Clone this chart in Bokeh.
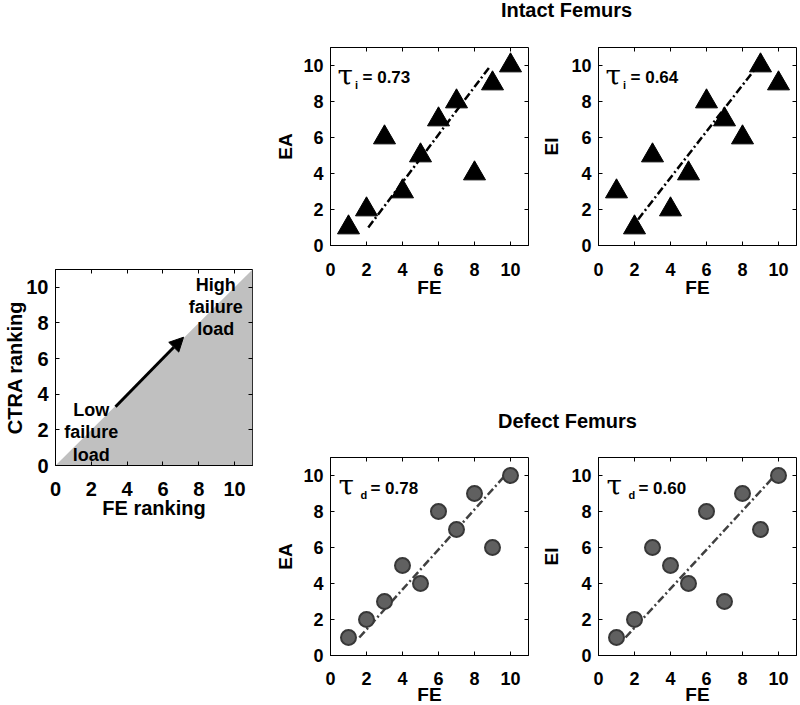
from bokeh.plotting import figure
from bokeh.models import Range1d, LinearAxis, FixedTicker, Arrow, NormalHead
from bokeh.layouts import row, column
from bokeh.embed import file_html
from bokeh.resources import INLINE
from bokeh.core.properties import value

FONT = "Liberation Sans"

# ---------------- data ----------------
fe_rank = [1, 2, 3, 4, 5, 6, 7, 8, 9, 10]
intact_ea = [1, 2, 6, 3, 5, 7, 8, 4, 9, 10]
intact_ei = [3, 1, 5, 2, 4, 8, 7, 6, 10, 9]
defect_ea = [1, 2, 3, 5, 4, 8, 7, 9, 6, 10]
defect_ei = [1, 2, 6, 5, 4, 8, 3, 9, 7, 10]

intact_ea_fit_x = [2.1, 8.9]
intact_ea_fit_y = [1.0, 10.0]
intact_ei_fit_x = [2.2, 8.85]
intact_ei_fit_y = [1.45, 10.0]
defect_ea_fit_x = [1.6, 9.7]
defect_ea_fit_y = [1.0, 10.0]
defect_ei_fit_x = [1.5, 9.8]
defect_ei_fit_y = [1.0, 10.0]

tau_values = ["0.73", "0.64", "0.78", "0.60"]
tau_subs = ["i", "i", "d", "d"]
ticks = [0, 2, 4, 6, 8, 10]
axis_max = 11

# schematic panel
region_x = [0, 11, 11]
region_y = [0, 11, 0]
arrow_from = (3.35, 3.3)
arrow_to = (7.15, 7.2)
low_label = "Low\nfailure\nload"
high_label = "High\nfailure\nload"
low_pos = (2.0, 1.87)
high_pos = (8.95, 8.9)


def style_axes(p, tick_size, label_size, x_std, x_lab_std, y_std, y_lab_std):
    for ax in p.xaxis + p.yaxis:
        ax.ticker = FixedTicker(ticks=ticks)
        ax.major_tick_in = 4
        ax.major_tick_out = 0
        ax.minor_tick_line_color = None
        ax.axis_line_color = "black"
        ax.major_tick_line_color = "black"
        ax.major_label_text_font = FONT
        ax.major_label_text_font_style = "bold"
        ax.major_label_text_font_size = tick_size
        ax.major_label_text_color = "black"
        ax.axis_label_text_font = FONT
        ax.axis_label_text_font_style = "bold"
        ax.axis_label_text_font_size = label_size
        ax.axis_label_text_color = "black"
    p.xaxis.major_label_standoff = x_std
    p.xaxis.axis_label_standoff = x_lab_std
    p.yaxis.major_label_standoff = y_std
    p.yaxis.axis_label_standoff = y_lab_std
    for loc in ("above", "right"):
        ax = LinearAxis(ticker=FixedTicker(ticks=ticks), major_tick_in=4, major_tick_out=0,
                        minor_tick_line_color=None, axis_line_color=None,
                        major_label_text_font_size="0px", major_label_standoff=0,
                        major_label_overrides={t: "" for t in ticks})
        p.add_layout(ax, loc)


def base_fig(fw, fh, bl, br, bt, bb, xlabel, ylabel):
    p = figure(frame_width=fw, frame_height=fh,
               x_range=Range1d(0, axis_max), y_range=Range1d(0, axis_max),
               output_backend="svg", toolbar_location=None,
               min_border_left=bl, min_border_right=br,
               min_border_top=bt, min_border_bottom=bb,
               x_axis_label=xlabel, y_axis_label=ylabel)
    p.grid.visible = False
    p.outline_line_color = "black"
    p.outline_line_width = 1
    p.background_fill_color = "white"
    p.border_fill_color = "white"
    return p


def scatter_panel(ys, fit_x, fit_y, ylabel, sub, tau, kind, bl, br, bt, bb, x_std, x_lab_std, y_lab_std):
    p = base_fig(198, 198, bl, br, bt, bb, "FE", ylabel)
    style_axes(p, "18px", "19px", x_std, x_lab_std, 7, y_lab_std)
    if kind == "tri":
        p.line(fit_x, fit_y, line_color="black", line_width=2.5, line_dash="8 3 2 3")
        p.scatter(fe_rank, ys, marker="triangle", size=22, fill_color="black", line_color="black")
        sx, ex, by_tau, by_eq, by_sub = 0.39, 1.78, 9.44, 9.33, 8.89
        sub_x = 1.44
    else:
        p.line(fit_x, fit_y, line_color="#404040", line_width=2.5, line_dash="8 3 2 3")
        p.scatter(fe_rank, ys, marker="circle", size=15, fill_color="#606060",
                  line_color="#383838", line_width=2)
        sx, ex, by_tau, by_eq, by_sub = 0.44, 2.22, 9.44, 9.28, 8.89
        sub_x = 1.86
    p.text([sx], [by_tau], text=["\u03c4"], text_font=value("DejaVu Serif"),
           text_font_size="28px", text_align="left", text_baseline="alphabetic", text_color="black")
    p.text([sub_x], [by_sub], text=[sub], text_font=value(FONT), text_font_style="bold",
           text_font_size="11px", text_align="center", text_baseline="alphabetic", text_color="black")
    p.text([ex], [by_eq], text=["= " + tau], text_font=value(FONT), text_font_style="bold",
           text_font_size="17px", text_align="left", text_baseline="alphabetic", text_color="black")
    return p


def title_fig(w, h, tx, ty, txt):
    p = figure(width=w, height=h, x_range=Range1d(0, w), y_range=Range1d(0, h),
               x_axis_type=None, y_axis_type=None, output_backend="svg",
               toolbar_location=None, min_border=0)
    p.grid.visible = False
    p.outline_line_color = None
    p.text([tx], [ty], text=[txt], text_font=value(FONT), text_font_style="bold",
           text_font_size="20px", text_align="center", text_baseline="middle", text_color="black")
    return p


# ---------------- schematic panel ----------------
left = base_fig(197, 196, 55, 10, 269, 60, "FE ranking", "CTRA ranking")
style_axes(left, "20px", "20px", 16, -2, 7, -3)
left.patch(region_x, region_y, fill_color="#c0c0c0", line_color=None)
left.add_layout(Arrow(end=NormalHead(size=14, fill_color="black", line_color="black"),
                      x_start=arrow_from[0], y_start=arrow_from[1],
                      x_end=arrow_to[0], y_end=arrow_to[1],
                      line_width=3, line_color="black"))
for (lx, ly), lab in ((low_pos, low_label), (high_pos, high_label)):
    left.text([lx], [ly], text=[lab], text_font=value(FONT), text_font_style="bold",
              text_font_size="18px", text_align="center", text_baseline="middle",
              text_line_height=1.12, text_color="black")

# ---------------- scatter panels ----------------
pA = scatter_panel(intact_ea, intact_ea_fit_x, intact_ea_fit_y, "EA", tau_subs[0], tau_values[0],
                   "tri", 68, 8, 15, 60, 17, -2, 4)
pB = scatter_panel(intact_ei, intact_ei_fit_x, intact_ei_fit_y, "EI", tau_subs[1], tau_values[1],
                   "tri", 62, 3, 15, 60, 17, -2, 6)
pC = scatter_panel(defect_ea, defect_ea_fit_x, defect_ea_fit_y, "EA", tau_subs[2], tau_values[2],
                   "circ", 68, 8, 15, 50, 16, -4, 4)
pD = scatter_panel(defect_ei, defect_ei_fit_x, defect_ei_fit_y, "EI", tau_subs[3], tau_values[3],
                   "circ", 62, 3, 15, 50, 16, -4, 6)

t1 = title_fig(537, 32, 304, 23, "Intact Femurs")
t2 = title_fig(537, 137, 305, 22, "Defect Femurs")

right_col = column(t1, row(pA, pB), t2, row(pC, pD))
layout = row(left, right_col)

open("out.html", "w").write(file_html(layout, INLINE))
